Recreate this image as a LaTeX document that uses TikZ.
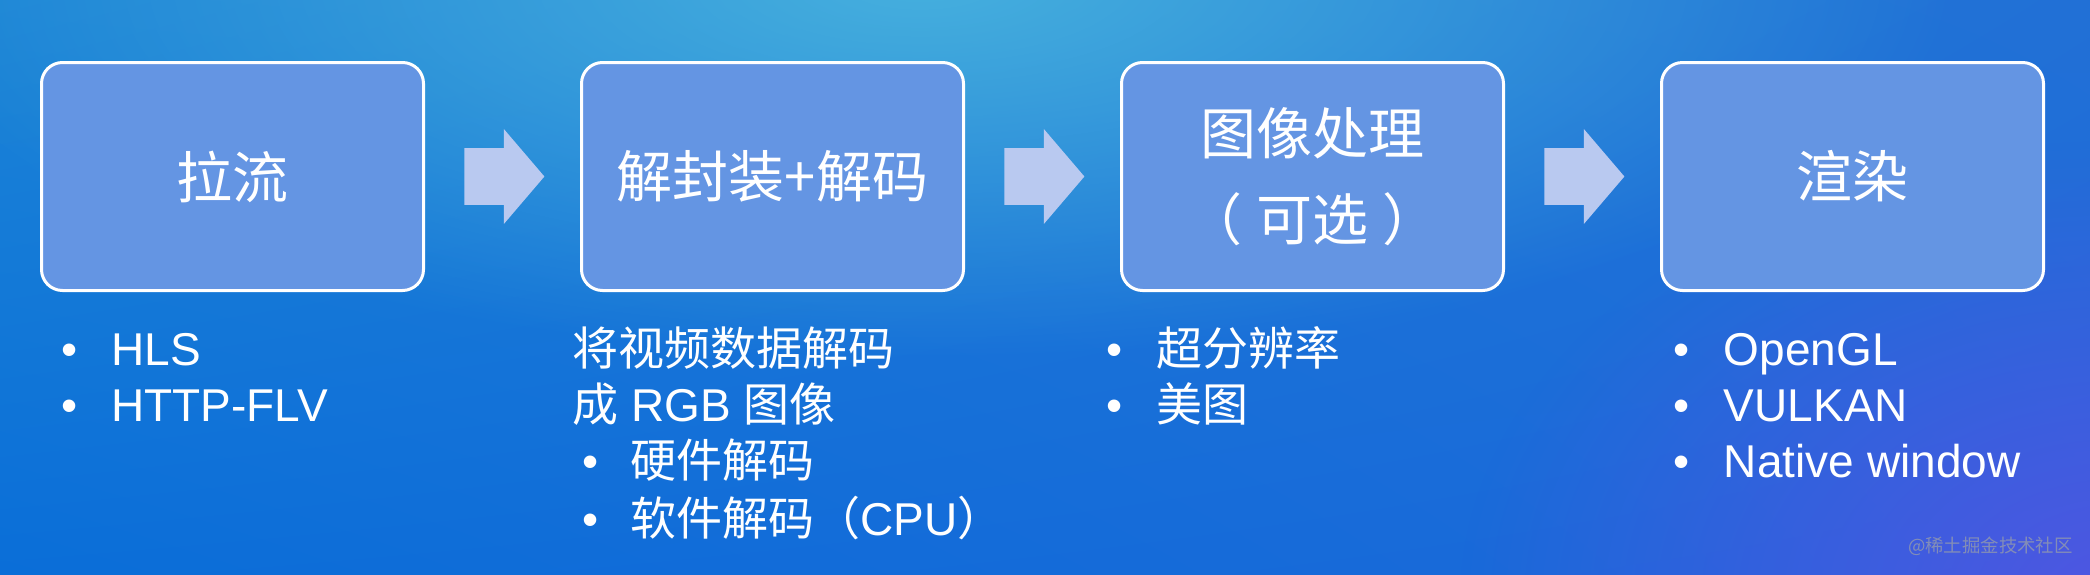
\documentclass[tikz,border=0pt]{standalone}
\usepackage{fontspec}
\setmainfont{Liberation Sans}
\newfontfamily\cjk{Noto Sans CJK SC}
\usepackage{tikz}
\usetikzlibrary{shapes.arrows, positioning, fadings, shadings}
\definecolor{bgtl}{HTML}{1C84D6}
\definecolor{bgtr}{HTML}{2170D6}
\definecolor{bgbl}{HTML}{0A6ED8}
\definecolor{bgbr}{HTML}{1E68DA}
\definecolor{bglight}{HTML}{46B0DE}
\definecolor{bgpurple}{HTML}{5056E2}
\definecolor{stagefill}{HTML}{6495E3}
\definecolor{arrowfill}{HTML}{B9C9F0}
\definecolor{creditgray}{HTML}{8E96B0}
\tikzfading[name=glowfade, inner color=transparent!0, outer color=transparent!100]
\tikzset{
  stage/.style={
    rectangle, rounded corners=10.5pt,
    minimum width=191pt, minimum height=114pt,
    draw=white, line width=1.5pt,
    fill=stagefill, text=white, align=center,
    font=\cjk\fontsize{28}{43}\selectfont,
  },
  flow/.style={
    single arrow, single arrow head extend=9.5pt,
    single arrow head indent=0pt, single arrow tip angle=99,
    minimum height=40pt, inner xsep=0pt, inner ysep=14pt,
    fill=arrowfill, draw=none,
  },
  items/.style={
    anchor=north west, inner sep=0pt, align=left,
    text=white, font=\fontsize{23}{28}\selectfont,
  },
  credit/.style={font=\cjk\fontsize{9.2}{11}\selectfont, text=creditgray, opacity=0.85, inner sep=0pt},
}
\newcommand{\itembul}[1]{\strut\makebox[25pt][l]{\textbullet}#1}
\newcommand{\subbul}[1]{\strut\hspace*{5pt}\makebox[24pt][l]{\textbullet}#1}

\begin{document}
\begin{tikzpicture}

  \useasboundingbox (0,0) rectangle (1045pt,-287pt);
  \clip (0,0) rectangle (1045pt,-287pt);
  \shade[upper left=bgtl, upper right=bgtr, lower left=bgbl, lower right=bgbr]
    (0,0) rectangle (1045pt,-287pt);
  \fill[bglight, path fading=glowfade] (460pt,10pt) ellipse (520pt and 190pt);
  \fill[bgpurple, path fading=glowfade] (1060pt,-300pt) ellipse (330pt and 230pt);

  \node[stage] (pull) at (116.25pt,-88.25pt) {拉流};
  \node[stage, right=77.5pt of pull] (decode) {解封装+解码};
  \node[stage, right=77.5pt of decode] (process) {图像处理\\（\hspace{0.25em}可选\hspace{0.25em}）};
  \node[stage, right=77.5pt of process] (render) {渲染};

  \node[flow, right=19.5pt of pull] (arr1) {};
  \node[flow, right=19.5pt of decode] (arr2) {};
  \node[flow, right=19.5pt of process] (arr3) {};

  \node[items, below right=16.9pt and 10.5pt of pull.south west] (pullList)
    {\itembul{HLS}\\ \itembul{HTTP-FLV}};
  \node[items, below right=16.9pt and -4pt of decode.south west] (decodeList)
    {\strut{\cjk 将视频数据解码}\\
     \strut{\cjk 成} RGB {\cjk 图像}\\
     \subbul{\cjk 硬件解码}\\
     \subbul{{\cjk 软件解码（}CPU{\cjk ）}}};
  \node[items, below right=16.9pt and -7pt of process.south west] (processList)
    {\itembul{\cjk 超分辨率}\\ \itembul{\cjk 美图}};
  \node[items, below right=16.9pt and 6.75pt of render.south west] (renderList)
    {\itembul{OpenGL}\\ \itembul{VULKAN}\\ \itembul{Native window}};

  \node[credit, anchor=east] (credit) at (1036.5pt,-273pt) {@稀土掘金技术社区};

\end{tikzpicture}
\end{document}
